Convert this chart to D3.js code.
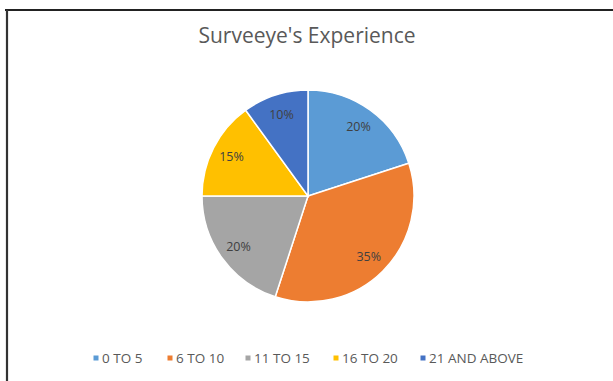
<!DOCTYPE html>
<html>
<head>
<meta charset="utf-8">
<script src="https://cdn.jsdelivr.net/npm/d3@7"></script>
<style>
  html, body { margin: 0; padding: 0; background: #fff; }
  svg { display: block; }
</style>
</head>
<body>
<svg id="chart" width="613" height="381"></svg>
<script>
// Experience bands of the people surveyed, share in percent
const categories = ["0 TO 5", "6 TO 10", "11 TO 15", "16 TO 20", "21 AND ABOVE"];
const shares = [20, 35, 20, 15, 10];
const sliceColors = ["#5B9BD5", "#ED7D31", "#A5A5A5", "#FFC000", "#4472C4"];
const chartTitle = "Surveeye's Experience";

const svg = d3.select("#chart");
const W = 613, H = 381;

// frame: heavy line on top and left
svg.append("line").attr("x1", 5).attr("x2", W).attr("y1", 10).attr("y2", 10)
  .attr("stroke", "#222").attr("stroke-width", 2);
svg.append("line").attr("x1", 7).attr("x2", 7).attr("y1", 10).attr("y2", H)
  .attr("stroke", "#333").attr("stroke-width", 2.2);

// title
svg.append("text")
  .attr("x", 307).attr("y", 43)
  .attr("text-anchor", "middle")
  .attr("font-family", "'Open Sans', sans-serif")
  .attr("font-size", 21)
  .attr("fill", "#595959")
  .text(chartTitle);

// pie
const cx = 308, cy = 196, r = 106;
const color = d3.scaleOrdinal().domain(categories).range(sliceColors);
const pie = d3.pie().sort(null).value(d => d.value);
const data = categories.map((c, i) => ({ key: c, value: shares[i] }));
const arcs = pie(data);
const arc = d3.arc().innerRadius(0).outerRadius(r);
const labelArc = d3.arc().innerRadius(r * 0.81).outerRadius(r * 0.81);

const g = svg.append("g").attr("transform", `translate(${cx},${cy})`);
g.selectAll("path.slice")
  .data(arcs)
  .join("path")
  .attr("class", "slice")
  .attr("d", arc)
  .attr("fill", d => color(d.data.key))
  .attr("stroke", "#fff")
  .attr("stroke-width", 1.5);

g.selectAll("text.val")
  .data(arcs)
  .join("text")
  .attr("class", "val")
  .attr("transform", d => `translate(${labelArc.centroid(d)})`)
  .attr("text-anchor", "middle")
  .attr("dy", "0.35em")
  .attr("font-family", "'Open Sans', sans-serif")
  .attr("font-size", 12.5)
  .attr("fill", "#404040")
  .text(d => d.data.value + "%");

// legend
const legendX = [96, 170, 248, 336, 423];
const legendY = 358;
const leg = svg.append("g");
const items = leg.selectAll("g.item")
  .data(categories)
  .join("g")
  .attr("class", "item")
  .attr("transform", (d, i) => `translate(${legendX[i]},${legendY})`);
items.append("rect")
  .attr("x", -2.5).attr("y", -2.5).attr("width", 5).attr("height", 5)
  .attr("fill", d => color(d));
items.append("text")
  .attr("x", 6).attr("y", 0)
  .attr("dy", "0.35em")
  .attr("font-family", "'Open Sans', sans-serif")
  .attr("font-size", 13.5)
  .attr("fill", "#595959")
  .text(d => d);
</script>
</body>
</html>
